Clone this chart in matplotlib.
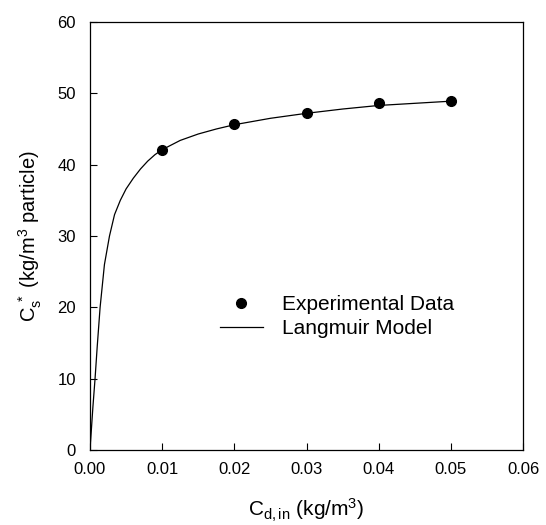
import matplotlib
matplotlib.use("Agg")
import matplotlib.pyplot as plt
from matplotlib.lines import Line2D

# Experimental points
exp_c = [0.01, 0.02, 0.03, 0.04, 0.05]
exp_q = [42.1, 45.7, 47.2, 48.7, 48.9]

# Langmuir model curve
model_c = [0.0, 0.0004, 0.0007, 0.001, 0.0014, 0.002, 0.0027, 0.0034, 0.0042,
           0.005, 0.006, 0.007, 0.008, 0.009, 0.010, 0.0125, 0.015, 0.0175,
           0.020, 0.025, 0.030, 0.035, 0.040, 0.045, 0.050]
model_q = [0.0, 6.0, 10.0, 14.5, 20.0, 26.0, 30.0, 33.0, 35.0,
           36.6, 38.1, 39.4, 40.5, 41.4, 42.1, 43.4, 44.3, 45.0,
           45.6, 46.5, 47.2, 47.8, 48.3, 48.6, 48.9]

x_ticks = [0.00, 0.01, 0.02, 0.03, 0.04, 0.05, 0.06]
y_ticks = [0, 10, 20, 30, 40, 50, 60]

plt.rcParams["font.family"] = ["Liberation Sans", "DejaVu Sans"]
plt.rcParams["mathtext.fontset"] = "custom"
plt.rcParams["mathtext.rm"] = "Liberation Sans"
plt.rcParams["mathtext.it"] = "Liberation Sans"
plt.rcParams["mathtext.default"] = "regular"

fig = plt.figure(figsize=(5.46, 5.25), dpi=100)
ax = fig.add_axes([90 / 546, 75 / 525, 433 / 546, 428 / 525])

ax.plot(model_c, model_q, color="black", lw=0.9)
ax.plot(exp_c, exp_q, "o", color="black", ms=7)

ax.set_xlim(0, 0.06)
ax.set_ylim(0, 60)
ax.set_xticks(x_ticks)
ax.set_yticks(y_ticks)
ax.set_xticklabels([f"{v:.2f}" for v in x_ticks])
ax.tick_params(direction="in", length=5, width=0.8, labelsize=12)
ax.tick_params(axis="x", pad=9)
ax.tick_params(axis="y", pad=10)
for s in ax.spines.values():
    s.set_linewidth(0.9)

ax.set_xlabel(r"C$_{\rm d,in}$ (kg/m$^3$)", fontsize=15, labelpad=14)
ax.set_ylabel(r"C$_{\rm s}^{\ *}$ (kg/m$^3$ particle)", fontsize=14.5, labelpad=10)

handles = [
    Line2D([], [], marker="o", ls="none", color="black", ms=7),
    Line2D([], [], color="black", lw=0.9),
]
ax.legend(handles, ["Experimental Data", "Langmuir Model"],
          loc="center left", bbox_to_anchor=(0.018, 18.7),
          bbox_transform=ax.transData, frameon=False, fontsize=15,
          handlelength=2.07, handletextpad=0.91, labelspacing=0.22,
          borderpad=0, borderaxespad=0)

fig.savefig("out.png", dpi=100)
